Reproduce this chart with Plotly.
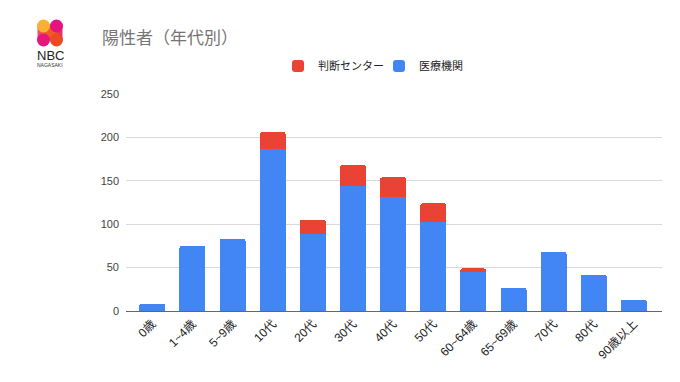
import plotly.graph_objects as go

categories = ["0歳", "1~4歳", "5~9歳", "10代", "20代", "30代", "40代", "50代",
              "60~64歳", "65~69歳", "70代", "80代", "90歳以上"]
iryo = [8, 75, 83, 187, 89, 144, 131, 103, 45, 27, 68, 42, 13]      # 医療機関
handan = [0, 0, 0, 19, 16, 24, 23, 21, 4, 0, 0, 0, 0]              # 判断センター
y_ticks = [0, 50, 100, 150, 200, 250]

W, H = 680, 382
L, R, T, B = 126, 18, 94, 71
PW, PH = W - L - R, H - T - B

def px(x):
    return (x - L) / PW

def py(y):
    return (H - B - y) / PH

FONT = "'Liberation Sans', Arial, 'Noto Sans CJK JP', sans-serif"

fig = go.Figure()
fig.add_trace(go.Bar(x=categories, y=iryo, name="医療機関", marker_color="#4285F4",
                     marker_line_width=0))
fig.add_trace(go.Bar(x=categories, y=handan, name="判断センター", marker_color="#EA4335",
                     marker_line_width=0))

shapes = []
# logo (decorative)
def circ(cx, cy, r, color):
    return dict(type="circle", xref="paper", yref="paper",
                x0=px(cx - r), x1=px(cx + r), y0=py(cy + r), y1=py(cy - r),
                fillcolor=color, line_width=0, layer="above")

shapes.append(dict(type="rect", xref="paper", yref="paper", x0=px(37.5), x1=px(49.5),
                   y0=py(40), y1=py(26), fillcolor="#EC4E6A", line_width=0))
shapes.append(dict(type="rect", xref="paper", yref="paper", x0=px(50.5), x1=px(62.5),
                   y0=py(40), y1=py(26), fillcolor="#E8306A", line_width=0))
shapes.append(dict(type="path", xref="paper", yref="paper",
                   path=f"M {px(38)},{py(28)} L {px(46)},{py(21)} L {px(62)},{py(38)} L {px(54)},{py(45)} Z",
                   fillcolor="#EE5A2A", line_width=0))
shapes.append(circ(43.5, 26, 6.5, "#F8B133"))
shapes.append(circ(56.5, 26, 6.5, "#E4137F"))
shapes.append(circ(43.5, 40, 6.5, "#E6177A"))
shapes.append(circ(56.5, 40, 6.5, "#EC4A25"))

annotations = [
    dict(text="NBC", xref="paper", yref="paper", x=px(50), y=py(55.5), xanchor="center",
         yanchor="middle", showarrow=False,
         font=dict(family="'Liberation Sans', Arial, sans-serif", size=13, color="#222222")),
    dict(text="NAGASAKI", xref="paper", yref="paper", x=px(50), y=py(65.5), xanchor="center",
         yanchor="middle", showarrow=False,
         font=dict(family="'Liberation Sans', Arial, sans-serif", size=5, color="#333333")),
    dict(text="陽性者（年代別）", xref="paper", yref="paper", x=px(100), y=py(36),
         xanchor="left", yanchor="middle", showarrow=False,
         font=dict(family="'Noto Sans CJK JP', sans-serif", size=17, color="#757575")),
]

fig.update_layout(
    width=W, height=H,
    margin=dict(l=L, r=R, t=T, b=B, pad=0),
    barmode="stack",
    bargap=0.352,
    barcornerradius=2,
    paper_bgcolor="white",
    plot_bgcolor="white",
    font=dict(family=FONT, size=11, color="#222222"),
    showlegend=True,
    legend=dict(orientation="h", traceorder="reversed", x=px(278), y=py(66),
                xanchor="left", yanchor="middle",
                entrywidth=56, entrywidthmode="pixels",
                font=dict(family=FONT, size=11, color="#222222"),
                itemclick=False, bgcolor="rgba(0,0,0,0)"),
    shapes=shapes,
    annotations=annotations,
)
fig.update_xaxes(type="category", range=[-0.656, 12.70], tickangle=-45,
                 showgrid=False, showline=True, linecolor="#666666", linewidth=1.3,
                 ticks="", tickfont=dict(size=12, color="#222222"), fixedrange=True)
fig.update_yaxes(range=[0, 250], tickvals=y_ticks, showgrid=True, gridcolor="#D9D9D9",
                 gridwidth=1, zeroline=False, ticks="", ticklabelstandoff=6,
                 tickfont=dict(size=11, color="#444444"), fixedrange=True)

fig.write_html("out.html", config=dict(displayModeBar=False))
